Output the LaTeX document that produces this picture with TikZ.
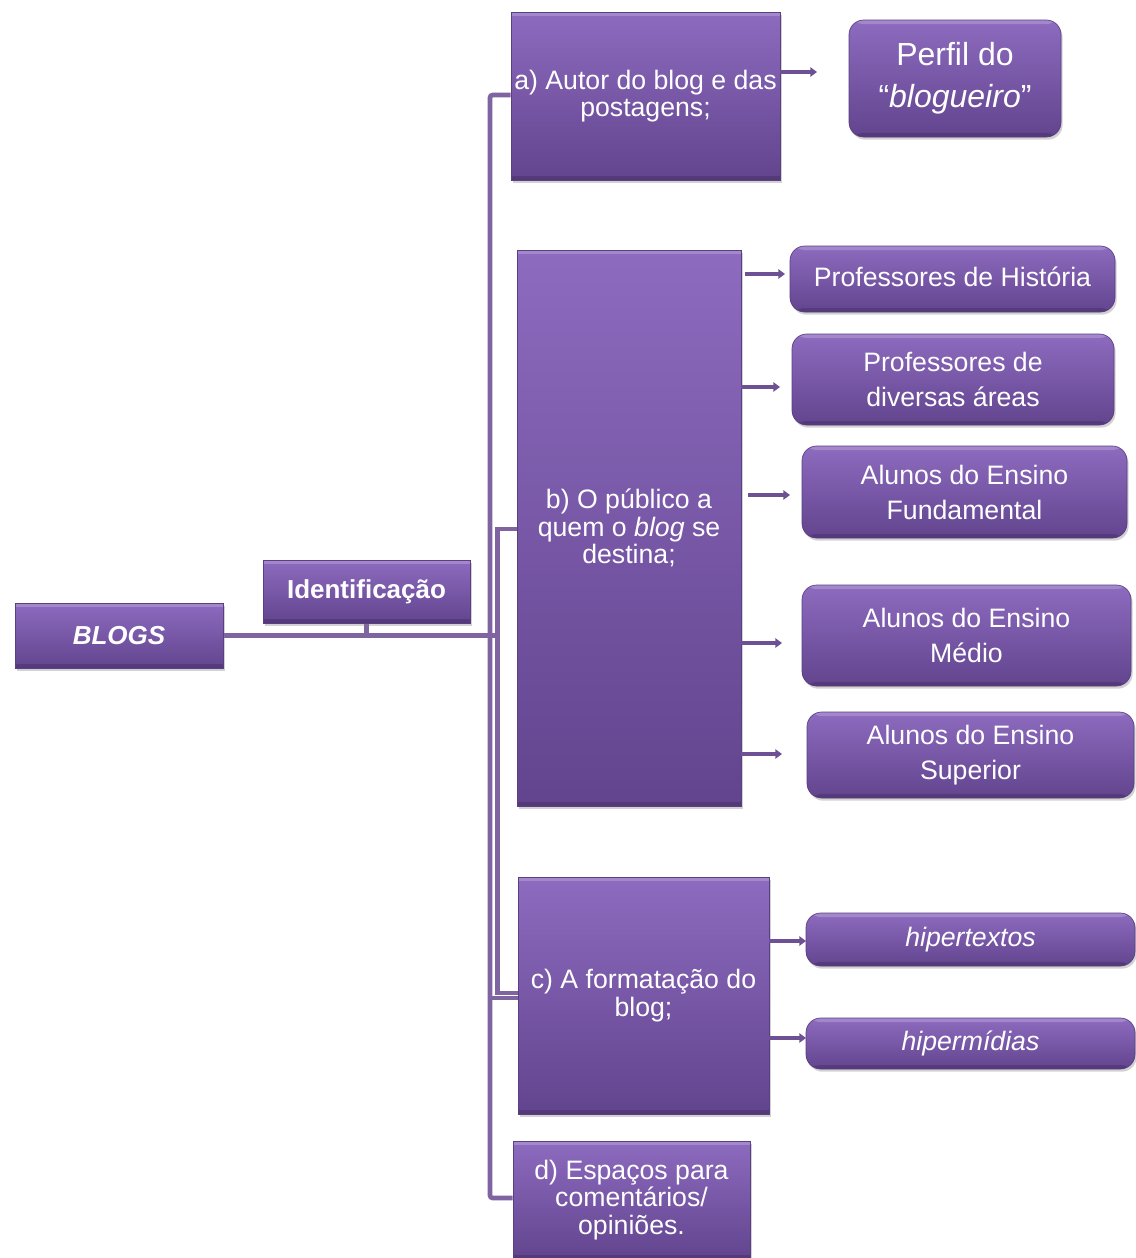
\documentclass[tikz,border=0pt]{standalone}
\usepackage{fontspec}
\setmainfont{Liberation Sans}
\usetikzlibrary{arrows.meta,shadows,calc}
\definecolor{lin}{HTML}{8064A2}
\definecolor{btop}{HTML}{8D6BBF}
\definecolor{bbot}{HTML}{62448E}
\definecolor{bedge}{HTML}{5A3F82}
\definecolor{arrc}{HTML}{6E5195}
\pgfdeclarelayer{bg}
\pgfsetlayers{bg,main}
\tikzset{
  pbox/.style 2 args={minimum width=#1*0.75pt, minimum height=#2*0.75pt,
    inner sep=0pt, text=white, align=center,
    top color=btop, bottom color=bbot, draw=bedge, line width=0.5pt,
    drop shadow={shadow xshift=1.2pt, shadow yshift=-2pt, opacity=0.35},
    path picture={
      \fill[white,opacity=0.2] (path picture bounding box.north west) rectangle ([yshift=-3pt]path picture bounding box.north east);
      \fill[black,opacity=0.15] (path picture bounding box.south west) rectangle ([yshift=3pt]path picture bounding box.south east);
    }},
  sq/.style={font=\fontsize{20}{20.6}\selectfont},
  rnd/.style={rounded corners=11pt, font=\fontsize{20}{26.25}\selectfont},
  conn/.style={draw=lin, line width=3.5pt},
  arr/.style={draw=arrc, line width=2.6pt, -{Triangle[length=5pt,width=7pt]}},
}
\begin{document}
\begin{tikzpicture}[x=0.75pt,y=-0.75pt]
\useasboundingbox (0,0) rectangle (1136,1258);

% connector coordinates
\coordinate (t1) at (490,95);
\coordinate (t2) at (490,1198);
\coordinate (t3) at (490,998);
\coordinate (u1) at (497.5,529);
\coordinate (u2) at (497.5,993);

% arrow tips
\coordinate (pa) at (817,72);
\coordinate (p1) at (785,274);
\coordinate (p2) at (780,387);
\coordinate (p3) at (790,495);
\coordinate (p4) at (782,643);
\coordinate (p5) at (782,754);
\coordinate (q1) at (806,941);
\coordinate (q2) at (806,1038);

% left-hand boxes
\node[pbox={208}{65}, font=\bfseries\itshape\fontsize{19.5}{20}\selectfont] (blogs) at (119,635.5) {BLOGS};
\node[pbox={207}{63}, font=\bfseries\fontsize{19.5}{20}\selectfont] (ident) at (366.5,591.5) {Identificação};
\node[pbox={269}{168}, sq] (a) at (645.5,96) {a) Autor do blog e das\\postagens;};
\node[pbox={224}{556}, sq] (b) at (629,528) {b) O público a\\quem o \textit{blog} se\\destina;};
\node[pbox={251}{237}, sq] (c) at (643.5,995.5) {c) A formatação do\\blog;};
\node[pbox={237}{118}, sq] (d) at (631.5,1200) {d) Espaços para\\comentários/\\opiniões.};

% right-hand boxes
\node[pbox={212}{117}, rounded corners=11pt, font=\fontsize{24}{31.5}\selectfont] (perfil) at (955,78.5) {Perfil do\\“\textit{blogueiro}”};
\node[pbox={325}{66}, rnd] (ph) at (952.5,279) {\raisebox{3pt}{Professores de História}};
\node[pbox={322}{91}, rnd] (pd) at (953,379.5) {Professores de\\diversas áreas};
\node[pbox={325}{92}, rnd] (af) at (964.5,492) {Alunos do Ensino\\Fundamental};
\node[pbox={329}{101}, rnd] (am) at (966.5,635.5) {Alunos do Ensino\\Médio};
\node[pbox={327}{86}, rnd] (asup) at (970.5,755) {Alunos do Ensino\\Superior};
\node[pbox={329}{53}, rnd] (ht) at (970.5,939.5) {\textit{hipertextos}};
\node[pbox={329}{51}, rnd] (hm) at (970.5,1043.5) {\textit{hipermídias}};

% connectors (behind boxes)
\begin{pgfonlayer}{bg}
\fill[white] (0,0) rectangle (1136,1258);
\draw[conn, rounded corners=2pt] (a.west |- t1) -- (t1) -- (t2) -- (d.west |- t2);
\draw[conn] (t3) -- (c.west |- t3);
\draw[conn] (b.west |- u1) -- (u1) -- (u2) -- (c.west |- u2);
\draw[conn] (blogs.east) -- (blogs.east -| u1);
\draw[conn] (ident.south) -- (ident.south |- blogs.east);
\end{pgfonlayer}

% arrows
\draw[arr] (a.east |- pa) -- (pa);
\draw[arr] ([xshift=3pt]b.east |- p1) -- (p1);
\draw[arr] (b.east |- p2) -- (p2);
\draw[arr] ([xshift=5pt]b.east |- p3) -- (p3);
\draw[arr] (b.east |- p4) -- (p4);
\draw[arr] (b.east |- p5) -- (p5);
\draw[arr] (c.east |- q1) -- (q1);
\draw[arr] (c.east |- q2) -- (q2);
\end{tikzpicture}
\end{document}
